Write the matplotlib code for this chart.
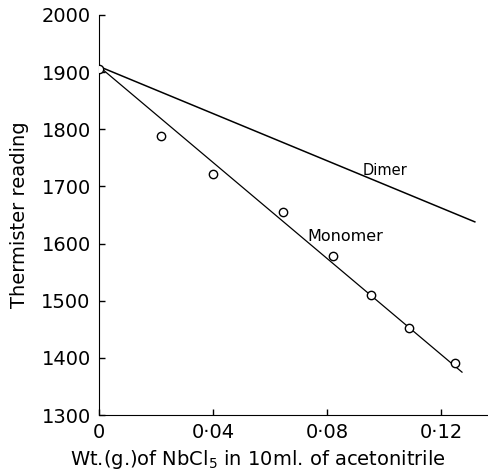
import matplotlib.pyplot as plt

# Experimental points (monomer run)
wt = [0.0, 0.0218, 0.0400, 0.0646, 0.0821, 0.0954, 0.1088, 0.1249]
reading = [1905, 1789, 1722, 1655, 1578, 1510, 1452, 1391]

# Calculated lines
monomer_x = [0.0, 0.1274]
monomer_y = [1910, 1375]
dimer_x = [0.0, 0.1319]
dimer_y = [1910, 1638]

x_ticks = [0, 0.04, 0.08, 0.12]
x_tick_labels = ["0", "0·04", "0·08", "0·12"]
y_ticks = [1300, 1400, 1500, 1600, 1700, 1800, 1900, 2000]

fig = plt.figure(figsize=(4.89, 4.73), dpi=100)
ax = fig.add_axes([0.2025, 0.1226, 0.793, 0.8457])

ax.plot(monomer_x, monomer_y, color="black", lw=0.9)
ax.plot(dimer_x, dimer_y, color="black", lw=1.1)
ax.plot(wt, reading, "o", mfc="white", mec="black", ms=6, mew=1.0, zorder=3)

ax.text(0.0926, 1720, "Dimer", fontsize=10.5)
ax.text(0.0733, 1605, "Monomer", fontsize=11.5)

ax.set_xlim(0, 0.1361)
ax.set_ylim(1300, 2000)
ax.set_xticks(x_ticks)
ax.set_xticklabels(x_tick_labels)
ax.set_yticks(y_ticks)

for s in ["top", "right"]:
    ax.spines[s].set_visible(False)
ax.tick_params(direction="in", length=4, width=1, labelsize=14, pad=6)

ax.set_ylabel("Thermister reading", fontsize=14, labelpad=9)
ax.set_xlabel("Wt.(g.)of NbCl$_5$ in 10ml. of acetonitrile", fontsize=14, labelpad=5)
ax.xaxis.set_label_coords(0.41, -0.083)

fig.savefig("out.png", dpi=100)
